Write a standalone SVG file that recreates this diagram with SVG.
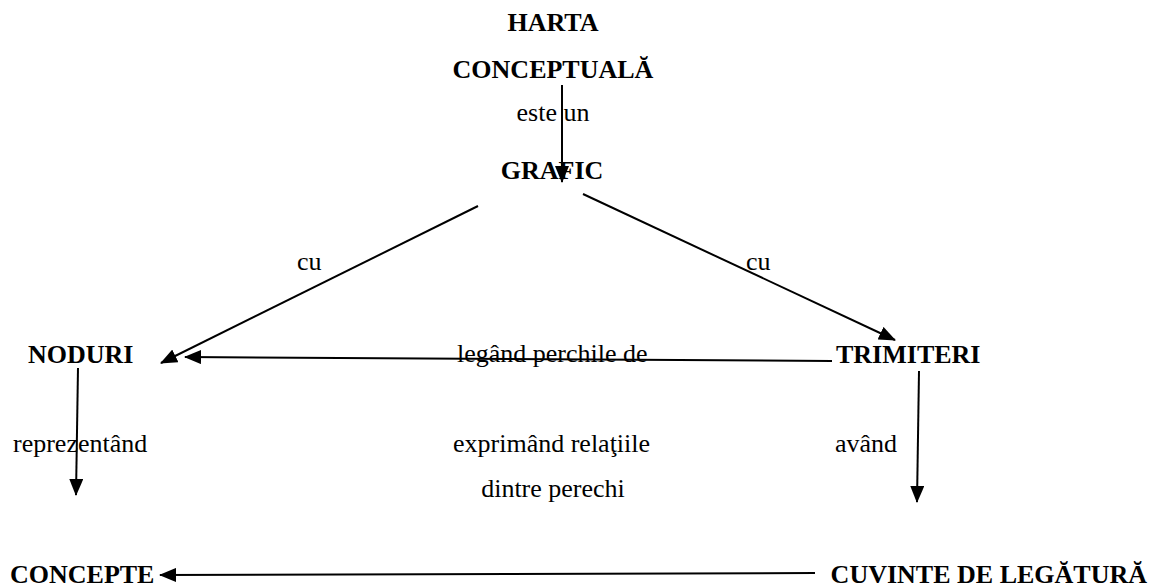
<svg xmlns="http://www.w3.org/2000/svg" width="1152" height="588" viewBox="0 0 1152 588">
<defs>
<marker id="arr" markerUnits="userSpaceOnUse" markerWidth="17" markerHeight="14" refX="16" refY="7" orient="auto">
<path d="M0,0 L17,7 L0,14 z" fill="#000"/>
</marker>
<style>
.n{font-family:"Liberation Serif","Times New Roman",serif;font-size:26px;font-weight:bold;fill:#000}
.l{font-family:"Liberation Serif","Times New Roman",serif;font-size:26px;fill:#000}
.c{stroke:#000;stroke-width:2;fill:none;marker-end:url(#arr)}
</style>
</defs>
<rect width="1152" height="588" fill="#fff"/>
<g id="connectors">
<line class="c" x1="562" y1="85" x2="562" y2="182"/>
<line class="c" x1="478" y1="206" x2="161" y2="363"/>
<line class="c" x1="583" y1="194" x2="895" y2="340"/>
<line class="c" x1="832" y1="361" x2="185" y2="357"/>
<line class="c" x1="78" y1="368" x2="76" y2="495"/>
<line class="c" x1="919" y1="371" x2="917" y2="502"/>
<line class="c" x1="815" y1="573" x2="160" y2="575"/>
</g>
<g id="labels">
<text class="l" x="553" y="121" text-anchor="middle">este un</text>
<text class="l" x="297" y="270">cu</text>
<text class="l" x="746" y="270">cu</text>
<text class="l" x="457" y="362">legând perchile de</text>
<text class="l" x="13" y="452">reprezentând</text>
<text class="l" x="453" y="452">exprimând relaţiile</text>
<text class="l" x="553" y="497" text-anchor="middle">dintre perechi</text>
<text class="l" x="835" y="452">având</text>
</g>
<g id="harta">
<text class="n" x="553" y="31" text-anchor="middle">HARTA</text>
<text class="n" x="553" y="78" text-anchor="middle">CONCEPTUALĂ</text>
</g>
<g id="grafic"><text class="n" x="552" y="179" text-anchor="middle">GRAFIC</text></g>
<g id="noduri"><text class="n" x="28" y="363">NODURI</text></g>
<g id="trimiteri"><text class="n" x="836" y="363">TRIMITERI</text></g>
<g id="concepte"><text class="n" x="10" y="583">CONCEPTE</text></g>
<g id="cuvinte"><text class="n" x="1147" y="583" text-anchor="end">CUVINTE DE LEGĂTURĂ</text></g>
</svg>
